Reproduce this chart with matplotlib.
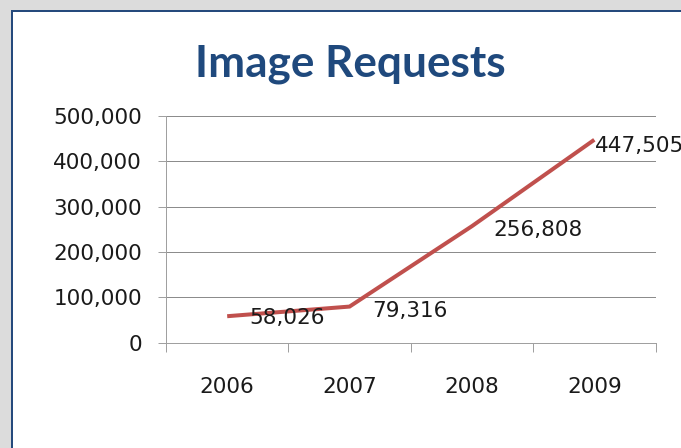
import matplotlib
matplotlib.use("Agg")
import matplotlib.pyplot as plt
from matplotlib.patches import Rectangle
from matplotlib.ticker import FuncFormatter

# data
years = ["2006", "2007", "2008", "2009"]
requests = [58026, 79316, 256808, 447505]
y_ticks = [0, 100000, 200000, 300000, 400000, 500000]

# label nudges in pixels (dx, dy), Excel-style "right" placement
label_nudge = [(22, 0), (23, -2), (21, -2), (1, -4)]

W, H, DPI = 681, 448, 100
PX = 72 / DPI  # points per pixel

fig = plt.figure(figsize=(W / DPI, H / DPI), dpi=DPI, facecolor="#dcdcdc")

# white panel with dark blue border (runs off the right and bottom edges)
panel = Rectangle((11.5 / W, -0.1), 1.2, 1 - 11 / H + 0.1, transform=fig.transFigure,
                  facecolor="white", edgecolor="#254a7c", linewidth=2 * PX, zorder=-1)
fig.add_artist(panel)

fig.text(350 / W, 1 - 77 / H, "Image Requests", ha="center", va="baseline",
         fontsize=31.8, fontweight="bold", color="#1f497d", family="Lato")

ax = fig.add_axes([166 / W, 1 - 342.5 / H, (655.5 - 166) / W, (342.5 - 116) / H])
ax.set_facecolor("none")

x = list(range(len(years)))
ax.plot(x, requests, color="#c0504d", linewidth=4 * PX, solid_capstyle="butt",
        solid_joinstyle="miter", zorder=3)

for xi, yi, (dx, dy) in zip(x, requests, label_nudge):
    ax.annotate(f"{yi:,}", (xi, yi), xytext=(dx * PX, dy * PX), textcoords="offset points",
                ha="left", va="center_baseline", fontsize=15.5, color="#1a1a1a",
                annotation_clip=False, zorder=4)

ax.set_xlim(-0.5, len(years) - 0.5)
ax.set_ylim(0, 500000)
ax.set_yticks(y_ticks)
ax.yaxis.set_major_formatter(FuncFormatter(lambda v, p: f"{int(v):,}"))

ax.set_xticks(x)
ax.set_xticklabels(years)
ax.set_xticks([i - 0.5 for i in range(len(years) + 1)], minor=True)

grid_col = "#8c8c8c"
ax.grid(axis="y", color=grid_col, linewidth=1 * PX)
ax.set_axisbelow(True)
for s in ["top", "right"]:
    ax.spines[s].set_visible(False)
for s in ["left", "bottom"]:
    ax.spines[s].set_color("#a0a0a0")
    ax.spines[s].set_linewidth(1 * PX)

ax.tick_params(axis="y", direction="out", length=8 * PX, width=1 * PX, color="#a0a0a0",
               pad=11.5, labelsize=15.5, labelcolor="#1a1a1a")
ax.tick_params(axis="x", which="major", length=0, pad=24.5, labelsize=15.5, labelcolor="#1a1a1a")
ax.tick_params(axis="x", which="minor", direction="out", length=9 * PX, width=1 * PX, color="#a0a0a0")

fig.savefig("out.png", dpi=DPI, facecolor=fig.get_facecolor())
